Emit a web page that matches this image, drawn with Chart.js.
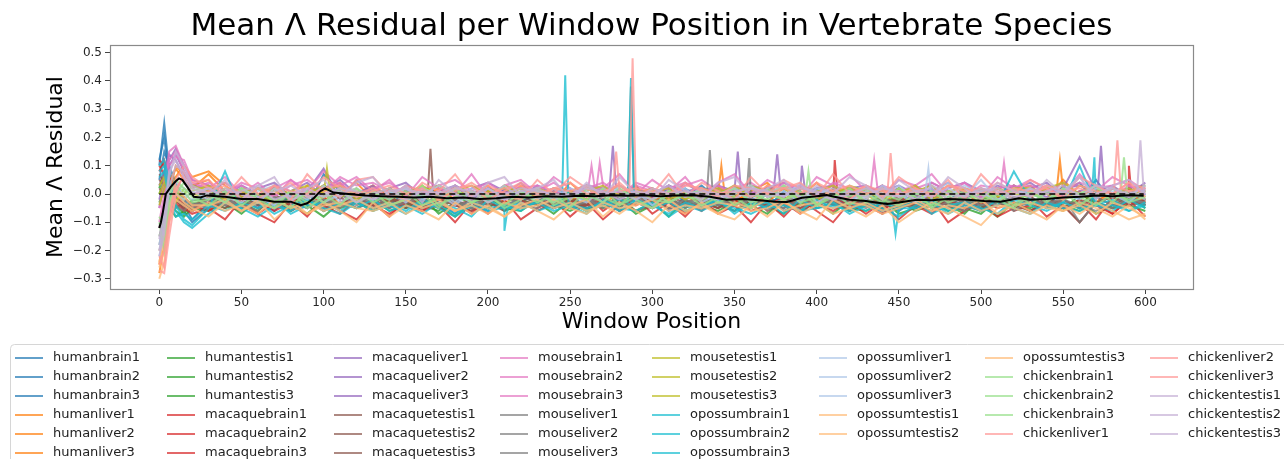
<!DOCTYPE html>
<html>
<head>
<meta charset="utf-8">
<script src="https://cdn.jsdelivr.net/npm/chart.js@4.4.1/dist/chart.umd.min.js"></script>
<style>
  html, body { margin: 0; padding: 0; background: #fff; }
  canvas { display: block; }
</style>
</head>
<body>
<canvas id="residualChart" width="1284" height="459"></canvas>
<script>
// sampled window positions (x) shared by every sample
const windowPos = [0,3,6,10,15,20,30,40,50,60,70,80,90,100,110,120,130,140,150,160,170,180,190,200,210,220,230,240,250,260,270,280,290,300,310,320,330,340,350,360,370,380,390,400,410,420,430,440,450,460,470,480,490,500,510,520,530,540,550,560,570,580,590,600];

// mean over all samples (black line)
const meanPos = [0,1,2,4,7,10,12,14,17,21,25,29,35,40,50,60,70,80,86,90,94,98,101,106,115,125,135,145,155,165,175,185,195,205,215,225,235,245,255,265,275,285,295,305,315,325,335,345,355,365,375,382,391,400,406,413,420,430,436,443,450,461,470,480,492,502,512,523,530,540,550,560,571,580,590,599];
const meanResidual = [-0.12,-0.1,-0.07,0.0,0.025,0.045,0.055,0.05,0.025,-0.01,-0.012,-0.005,-0.008,-0.01,-0.018,-0.018,-0.027,-0.027,-0.04,-0.033,-0.015,0.01,0.02,0.005,0.0,-0.005,-0.008,-0.01,-0.012,-0.01,-0.015,-0.012,-0.018,-0.015,-0.01,-0.012,-0.008,-0.01,-0.006,-0.008,-0.004,-0.006,-0.004,-0.008,-0.005,-0.004,-0.01,-0.02,-0.018,-0.022,-0.027,-0.028,-0.013,-0.008,-0.004,-0.012,-0.02,-0.025,-0.03,-0.035,-0.03,-0.02,-0.022,-0.018,-0.02,-0.025,-0.027,-0.015,-0.02,-0.018,-0.012,-0.01,-0.005,-0.008,-0.004,-0.006];

// dashed reference line at zero
const baselineX = [0, 599];

const xTicks = [0,50,100,150,200,250,300,350,400,450,500,550,600];
const yTicks = [-0.3,-0.2,-0.1,0.0,0.1,0.2,0.3,0.4,0.5];

const seriesNames = [
  'humanbrain1','humanbrain2','humanbrain3','humanliver1','humanliver2','humanliver3',
  'humantestis1','humantestis2','humantestis3','macaquebrain1','macaquebrain2','macaquebrain3',
  'macaqueliver1','macaqueliver2','macaqueliver3','macaquetestis1','macaquetestis2','macaquetestis3',
  'mousebrain1','mousebrain2','mousebrain3','mouseliver1','mouseliver2','mouseliver3',
  'mousetestis1','mousetestis2','mousetestis3','opossumbrain1','opossumbrain2','opossumbrain3',
  'opossumliver1','opossumliver2','opossumliver3','opossumtestis1','opossumtestis2','opossumtestis3',
  'chickenbrain1','chickenbrain2','chickenbrain3','chickenliver1','chickenliver2','chickenliver3',
  'chickentestis1','chickentestis2','chickentestis3'
];

const humanbrain1 = [0.1,0.25,0.08,0.02,-0.04,-0.09, -0.03,0.01,-0.02,-0.05,0.02,-0.04,-0.01,0.03,0.0,-0.02, -0.04,0.01,-0.03,-0.06,0.0,-0.02,-0.05,0.02,-0.01,-0.03, 0.01,-0.04,-0.02,0.03,-0.01,-0.05,0.0,-0.02,0.02,-0.03, -0.05,0.01,-0.02,-0.04,0.0,-0.06,-0.03,0.02,-0.01,-0.04, -0.02,-0.07,-0.03,0.0,-0.05,-0.02,0.01,-0.04,-0.03,0.02, -0.01,-0.05,0.03,-0.02,0.05,-0.03,0.0,-0.04];
const humanbrain2 = [0.05,0.15,0.1,0.04,-0.02,-0.06, 0.02,-0.03,0.0,-0.04,0.03,-0.02,-0.05,0.07,0.01,-0.03, 0.0,-0.05,0.02,-0.02,-0.04,0.01,-0.03,-0.06,0.02,-0.01, -0.03,0.02,-0.01,-0.04,0.01,-0.02,0.03,-0.05,-0.01,0.02, -0.02,-0.04,0.02,-0.01,-0.05,0.01,-0.03,0.0,-0.04,-0.02, 0.01,-0.03,-0.06,-0.02,0.02,-0.04,-0.01,-0.05,0.0,-0.03, -0.04,0.01,-0.02,-0.05,0.02,-0.01,-0.03,0.0];
const humanbrain3 = [0.12,0.2,0.06,-0.01,-0.06,-0.1, -0.05,-0.02,0.02,-0.03,-0.06,0.0,-0.02,-0.04,0.03,-0.01, 0.02,-0.02,-0.05,0.01,-0.03,-0.07,-0.01,0.01,-0.04,-0.02, -0.01,-0.05,0.01,-0.03,0.02,-0.04,-0.02,0.01,-0.06,-0.01, 0.03,-0.02,-0.04,0.01,-0.03,-0.01,-0.06,-0.02,0.02,-0.03, -0.04,-0.01,0.02,-0.05,-0.03,0.01,-0.02,-0.06,-0.01,0.03, -0.02,-0.04,0.01,0.04,-0.03,-0.01,0.02,-0.02];
const humanliver1 = [-0.25,-0.1,0.04,0.09,0.05,0.02, 0.07,0.01,-0.03,0.02,-0.01,-0.04,0.03,-0.02,0.0,0.04, -0.02,0.02,-0.01,-0.04,0.03,0.0,-0.03,0.01,-0.02,0.03, 0.0,-0.03,0.04,-0.01,0.02,-0.04,0.01,-0.02,0.03,-0.01, -0.03,0.02,0.0,-0.04,0.03,-0.02,0.01,-0.03,0.02,0.0, -0.02,0.03,-0.05,0.01,-0.01,-0.04,0.02,0.0,-0.03,0.01, 0.03,-0.02,0.05,-0.01,0.02,-0.03,0.01,-0.02];
const humanliver2 = [-0.2,-0.15,0.0,0.1,0.07,0.03, 0.05,-0.02,0.01,-0.03,0.02,0.0,-0.04,0.01,0.04,-0.02, 0.01,-0.03,0.02,0.0,-0.02,0.03,-0.01,-0.04,0.01,0.02, -0.02,0.01,-0.03,0.02,0.0,-0.01,0.03,-0.03,0.01,-0.02, 0.02,-0.01,-0.03,0.01,0.04,-0.02,0.0,-0.03,0.02,-0.01, 0.0,-0.04,0.02,-0.02,0.01,-0.03,-0.01,0.02,-0.02,0.03, -0.01,0.02,0.01,0.0,-0.03,0.02,-0.01,0.01];
const humanliver3 = [-0.28,-0.18,-0.04,0.06,0.1,0.06, 0.08,0.03,-0.01,0.02,-0.03,0.01,-0.02,0.03,-0.04,0.0, 0.03,-0.01,0.01,-0.03,0.02,-0.02,0.0,0.03,-0.03,-0.01, 0.02,-0.02,0.0,0.03,-0.04,0.01,-0.01,0.02,-0.03,0.01, -0.01,0.03,-0.02,0.0,-0.03,0.02,-0.01,0.04,-0.02,0.01, 0.02,-0.01,-0.03,0.03,-0.02,0.0,0.01,-0.04,0.02,-0.02, 0.0,0.03,-0.02,0.01,-0.04,0.02,0.0,-0.03];
const humantestis1 = [0.0,0.05,-0.03,-0.06,-0.08,-0.05, -0.06,-0.03,-0.07,-0.02,-0.05,-0.01,-0.04,-0.08,-0.03,-0.05, -0.02,-0.06,-0.04,-0.01,-0.07,-0.03,-0.05,-0.02,-0.06,-0.04, -0.03,-0.07,-0.02,-0.05,-0.04,-0.01,-0.06,-0.03,-0.08,-0.02, -0.05,-0.03,-0.06,-0.02,-0.04,-0.07,-0.01,-0.05,-0.03,-0.06, -0.04,-0.02,-0.07,-0.05,-0.03,-0.06,-0.02,-0.04,-0.08,-0.03, -0.06,-0.03,-0.05,-0.02,-0.07,-0.04,-0.01,-0.05];
const humantestis2 = [0.02,0.08,0.0,-0.04,-0.07,-0.03, -0.04,-0.01,-0.05,0.0,-0.03,-0.06,-0.02,-0.04,0.01,-0.03, -0.05,-0.02,0.0,-0.04,-0.06,-0.01,-0.03,-0.05,0.0,-0.02, -0.04,0.01,-0.03,-0.06,-0.02,-0.05,0.0,-0.03,-0.01,-0.05, -0.02,-0.05,-0.01,-0.04,-0.07,-0.02,-0.04,0.0,-0.03,-0.05, -0.06,-0.03,-0.01,-0.05,-0.02,-0.04,-0.07,-0.01,-0.03,-0.05, -0.02,-0.04,-0.06,0.0,-0.03,-0.05,-0.02,-0.04];
const humantestis3 = [-0.03,0.02,-0.05,-0.08,-0.06,-0.02, -0.02,-0.05,-0.03,-0.06,-0.01,-0.04,-0.07,-0.02,-0.05,-0.03, -0.06,-0.03,-0.05,-0.02,-0.04,-0.08,-0.03,-0.01,-0.05,-0.06, -0.02,-0.04,-0.06,-0.03,-0.05,-0.02,-0.07,-0.04,-0.03,-0.06, -0.04,-0.06,-0.03,-0.05,-0.02,-0.04,-0.06,-0.03,-0.07,-0.02, -0.03,-0.05,-0.02,-0.06,-0.04,-0.03,-0.05,-0.07,-0.02,-0.04, -0.05,-0.02,-0.04,-0.06,-0.03,-0.05,-0.04,-0.06];
const macaquebrain1 = [0.12,0.1,0.04,-0.02,-0.05,-0.07, -0.05,-0.09,-0.02,-0.07,-0.1,-0.03,-0.08,-0.01,-0.06,-0.09, -0.03,-0.08,-0.02,-0.06,-0.04,-0.1,-0.03,-0.07,-0.02,-0.09, -0.05,-0.02,-0.08,-0.03,-0.09,-0.04,-0.01,-0.07,-0.03,-0.08, -0.02,-0.07,-0.04,-0.1,-0.03,-0.08,-0.02,-0.06,-0.1,-0.03, -0.07,-0.03,-0.09,-0.04,-0.02,-0.1,-0.06,-0.03,-0.08,-0.05, -0.02,-0.08,-0.04,-0.1,-0.03,-0.07,-0.02,-0.08];
const macaquebrain2 = [0.08,0.12,0.06,0.0,-0.04,-0.06, -0.03,0.0,-0.05,-0.02,-0.06,-0.03,0.01,-0.04,-0.07,-0.02, -0.05,-0.01,-0.04,-0.06,-0.02,-0.03,-0.07,-0.01,-0.04,-0.05, -0.02,-0.05,-0.03,0.0,-0.06,-0.02,-0.04,-0.01,-0.05,-0.03, -0.06,-0.01,-0.04,-0.02,-0.05,-0.03,-0.07,-0.02,-0.02,-0.04, -0.03,-0.06,-0.01,-0.04,-0.07,-0.02,-0.05,-0.03,-0.01,-0.06, -0.04,-0.02,-0.05,-0.03,-0.09,-0.01,-0.04,-0.02];
const macaquebrain3 = [0.1,0.07,0.02,-0.03,-0.06,-0.04, -0.06,-0.02,-0.04,-0.07,-0.03,-0.05,-0.02,-0.06,-0.03,-0.01, -0.04,-0.07,-0.03,-0.02,-0.05,-0.04,-0.06,-0.03,-0.05,-0.02, -0.06,-0.03,-0.05,-0.04,-0.02,-0.06,-0.03,-0.05,-0.02,-0.07, -0.03,-0.05,-0.02,-0.06,-0.04,-0.01,-0.05,-0.03,-0.06,-0.02, -0.04,-0.07,-0.03,-0.05,-0.02,-0.04,-0.06,-0.02,-0.05,-0.03, -0.06,-0.03,-0.05,-0.02,-0.04,-0.07,-0.03,-0.03];
const macaqueliver1 = [-0.05,0.04,0.1,0.14,0.08,0.03, 0.02,-0.01,0.03,0.0,-0.02,0.01,0.04,-0.01,0.02,0.0, 0.03,-0.02,0.01,0.02,-0.01,0.03,0.0,0.02,-0.02,0.01, 0.0,0.02,-0.01,0.03,0.01,-0.02,0.02,0.0,0.03,-0.01, 0.01,0.03,0.01,0.0,0.02,-0.01,0.03,0.01,-0.02,0.02, 0.03,0.0,0.02,-0.01,0.04,0.01,-0.02,0.02,0.0,0.03, 0.01,-0.01,0.02,0.03,0.01,0.02,0.0,0.04];
const macaqueliver2 = [-0.02,0.06,0.12,0.16,0.1,0.05, 0.03,0.0,-0.02,0.02,0.04,-0.01,0.01,0.09,-0.02,0.05, 0.0,0.02,0.04,-0.01,0.01,0.03,-0.02,0.02,0.0,0.04, -0.01,0.02,0.01,0.03,0.02,0.0,0.02,-0.01,0.03,0.01, 0.02,-0.01,0.03,0.0,0.02,0.04,0.01,0.01,-0.01,0.02, 0.0,0.03,-0.02,0.02,0.01,0.04,0.0,-0.01,0.03,0.01, 0.02,0.04,-0.01,0.01,0.03,0.0,0.02,0.03];
const macaqueliver3 = [0.03,0.08,0.14,0.12,0.06,0.0, 0.01,0.04,0.0,-0.02,0.03,0.01,-0.01,0.02,0.05,0.0, 0.02,-0.01,0.03,0.01,0.0,-0.02,0.02,0.04,0.01,-0.01, 0.03,0.0,0.02,-0.02,0.01,0.03,0.0,0.02,-0.01,0.04, 0.0,0.02,-0.01,0.03,0.01,0.02,0.0,0.02,0.03,-0.01, 0.02,0.01,0.03,0.0,-0.02,0.02,0.04,0.01,-0.01,0.02, 0.04,0.0,0.02,0.13,0.01,0.03,-0.01,0.02];
const macaquetestis1 = [0.05,0.03,-0.02,-0.05,-0.03,-0.06, -0.03,-0.05,-0.01,-0.04,-0.02,-0.06,-0.03,0.0,-0.04,-0.02, -0.05,-0.03,-0.01,-0.03,-0.04,-0.02,-0.05,-0.03,-0.06,-0.01, -0.03,-0.05,-0.02,-0.04,-0.01,-0.06,-0.03,-0.02,-0.05,-0.03, -0.01,-0.04,-0.06,-0.02,-0.03,-0.05,-0.01,-0.04,-0.02,-0.06, -0.03,-0.05,-0.02,-0.04,-0.06,-0.01,-0.03,-0.05,-0.02,-0.04, -0.06,-0.02,-0.04,-0.1,-0.03,-0.05,-0.02,-0.04];
const macaquetestis2 = [0.02,0.0,-0.04,-0.02,-0.05,-0.04, -0.02,-0.04,-0.06,-0.01,-0.03,-0.05,-0.02,-0.04,-0.01,-0.05, -0.03,-0.01,-0.05,-0.03,-0.02,-0.04,-0.06,-0.01,-0.03,-0.05, -0.02,-0.04,-0.01,-0.05,-0.03,-0.02,-0.06,-0.04,-0.01,-0.03, -0.05,-0.02,-0.04,-0.01,-0.06,-0.03,-0.02,-0.05,-0.03,-0.01, -0.04,-0.02,-0.05,-0.03,-0.01,-0.04,-0.06,-0.02,-0.03,-0.05, -0.01,-0.04,-0.02,-0.05,-0.03,-0.01,-0.04,-0.03];
const macaquetestis3 = [0.07,0.04,0.0,-0.03,-0.01,-0.04, -0.01,-0.03,-0.05,-0.02,0.0,-0.04,-0.02,-0.05,-0.03,-0.01, -0.04,-0.02,-0.03,-0.05,-0.01,-0.04,-0.02,-0.03,-0.05,-0.02, -0.04,-0.01,-0.03,-0.05,-0.02,-0.04,-0.01,-0.03,-0.02,-0.04, -0.03,-0.05,-0.01,-0.03,-0.04,-0.02,-0.05,-0.01,-0.04,-0.03, -0.02,-0.04,-0.01,-0.05,-0.03,-0.02,-0.04,-0.06,-0.01,-0.03, -0.04,-0.02,-0.03,-0.05,-0.01,-0.04,-0.03,-0.02];
const mousebrain1 = [-0.1,0.0,0.15,0.17,0.1,0.04, 0.02,0.06,0.0,0.04,-0.01,0.05,0.01,0.08,0.03,0.06, 0.01,0.05,-0.01,0.06,0.02,0.0,0.07,-0.01,0.03,0.05, 0.0,0.06,0.02,-0.01,0.03,0.07,0.0,0.05,0.01,0.06, -0.01,0.04,0.07,0.0,0.05,0.02,-0.01,0.06,0.03,0.07, 0.01,-0.01,0.05,0.03,0.07,0.0,0.04,-0.01,0.06,0.02, 0.05,0.02,0.0,0.07,0.01,0.06,0.03,0.0];
const mousebrain2 = [-0.05,0.05,0.12,0.15,0.08,0.02, 0.04,0.01,0.03,-0.01,0.02,0.05,0.0,0.02,0.04,-0.01, 0.02,0.04,0.0,0.02,0.03,-0.01,0.01,0.04,0.0,0.02, 0.03,0.01,-0.01,0.02,0.04,0.0,0.03,0.01,0.02,0.04, 0.01,0.03,0.0,0.02,-0.01,0.04,0.02,0.0,0.03,0.01, 0.02,0.02,0.01,0.03,0.0,0.02,0.04,-0.01,0.02,0.03, 0.0,0.03,0.01,0.04,0.02,-0.01,0.03,0.02];
const mousebrain3 = [-0.12,-0.03,0.1,0.13,0.12,0.05, 0.03,0.0,0.04,0.02,-0.01,0.03,0.05,0.01,0.06,0.03, 0.04,0.01,0.02,0.0,0.03,0.05,0.01,-0.01,0.03,0.02, 0.01,0.04,0.0,0.03,0.02,-0.01,0.04,0.02,0.0,0.03, 0.05,0.01,0.02,0.04,0.0,0.02,0.03,-0.01,0.04,0.02, 0.0,0.03,0.01,0.02,0.04,0.01,-0.01,0.03,0.02,0.02, 0.03,0.01,0.04,0.0,0.02,0.03,0.05,0.01];
const mouseliver1 = [-0.15,-0.08,-0.02,-0.04,-0.06,-0.03, -0.05,-0.02,-0.04,-0.06,-0.01,-0.03,-0.05,-0.02,-0.04,-0.03, -0.01,-0.04,-0.02,-0.05,-0.03,-0.06,-0.02,-0.04,-0.01,-0.03, -0.05,-0.02,-0.04,-0.03,-0.01,-0.05,-0.03,-0.03,-0.05,-0.02, -0.04,-0.01,-0.03,-0.05,-0.02,-0.04,-0.06,-0.01,-0.03,-0.05, -0.02,-0.04,-0.03,-0.05,-0.01,-0.03,-0.06,-0.02,-0.04,-0.01, -0.03,-0.05,-0.02,-0.04,-0.06,-0.03,-0.01,-0.04];
const mouseliver2 = [-0.12,-0.05,0.0,-0.02,-0.04,-0.05, -0.02,-0.04,-0.01,-0.05,-0.03,0.0,-0.04,-0.02,-0.05,-0.01, -0.03,-0.05,-0.02,-0.04,0.0,-0.03,-0.05,-0.01,-0.04,-0.02, 0.0,-0.03,-0.05,-0.02,-0.04,-0.01,-0.03,-0.05,-0.02,-0.04, -0.01,-0.02,-0.04,-0.02,-0.05,-0.03,0.0,-0.04,-0.02,-0.05, -0.03,-0.01,-0.04,-0.02,-0.05,-0.03,-0.01,-0.04,-0.02,-0.06, -0.02,-0.04,-0.01,-0.1,-0.03,-0.05,-0.02,-0.03];
const mouseliver3 = [-0.18,-0.1,-0.03,0.0,-0.02,-0.04, -0.03,-0.01,-0.05,-0.02,-0.04,-0.06,-0.02,-0.03,0.0,-0.04, -0.02,-0.05,-0.03,-0.01,-0.04,-0.02,-0.05,-0.03,-0.01,-0.04, -0.03,-0.01,-0.04,-0.02,-0.05,-0.03,-0.01,-0.04,-0.02,-0.05, -0.02,-0.04,-0.01,-0.03,-0.03,-0.05,-0.02,-0.04,-0.01,-0.03, -0.05,-0.02,-0.04,-0.01,-0.03,-0.05,-0.02,-0.04,-0.03,-0.01, -0.04,-0.02,-0.05,-0.03,-0.01,-0.04,-0.02,-0.03];
const mousetestis1 = [0.0,0.04,0.02,-0.02,0.0,0.03, 0.01,-0.02,0.02,0.0,-0.03,0.01,0.03,-0.01,0.0,0.02, -0.02,0.01,0.0,0.03,-0.01,0.02,-0.03,0.01,0.02,-0.01, 0.02,0.0,-0.02,0.01,0.03,-0.01,0.0,0.02,-0.02,0.01, 0.0,0.02,-0.01,0.03,0.01,-0.02,0.02,0.0,-0.01,0.03, 0.01,-0.02,0.02,0.0,-0.01,0.03,0.01,-0.02,0.02,0.0, -0.01,0.02,0.04,0.0,0.02,-0.01,0.01,0.03];
const mousetestis2 = [-0.04,0.02,0.05,0.01,-0.02,0.01, 0.03,0.0,-0.01,0.02,0.01,-0.02,0.0,0.03,-0.01,0.01, 0.0,0.02,-0.02,0.01,0.03,0.0,0.01,-0.02,0.03,0.0, -0.01,0.02,0.01,-0.02,0.0,0.03,-0.01,0.01,0.02,-0.02, 0.02,0.0,0.03,-0.01,0.01,0.02,-0.02,0.01,0.03,0.0, -0.01,0.01,0.0,0.03,-0.02,0.01,0.02,0.0,-0.01,0.02, 0.02,0.0,-0.02,0.03,0.01,0.0,0.02,-0.01];
const mousetestis3 = [0.03,0.06,0.0,-0.03,0.02,0.0, -0.01,0.02,0.01,-0.03,0.02,0.0,-0.01,0.01,0.03,-0.02, 0.01,-0.01,0.02,0.0,-0.02,0.01,0.03,0.0,-0.01,0.02, 0.0,-0.02,0.01,0.03,-0.01,0.0,0.02,-0.02,0.01,0.0, -0.02,0.01,0.0,0.02,-0.01,0.03,0.0,-0.02,0.01,0.02, 0.0,0.02,-0.01,0.01,0.03,-0.02,0.0,0.01,-0.01,0.02, 0.01,-0.02,0.02,0.0,-0.01,0.02,0.0,0.01];
const opossumbrain1 = [0.1,0.12,0.05,-0.04,-0.09,-0.11, -0.05,0.08,-0.06,-0.03,-0.07,-0.04,-0.02,-0.06,-0.03,-0.05, -0.02,-0.06,-0.04,-0.07,-0.03,-0.05,-0.08,-0.02,-0.05,-0.03, -0.06,-0.04,-0.04,-0.05,-0.03,-0.06,-0.02,-0.04,-0.07,-0.03, -0.05,-0.02,-0.06,-0.04,-0.03,-0.07,-0.02,-0.05,-0.04,-0.06, -0.03,-0.05,-0.08,-0.04,-0.02,-0.06,-0.03,-0.05,-0.07,-0.02, -0.04,-0.06,-0.03,-0.05,-0.04,-0.04,-0.06,-0.03];
const opossumbrain2 = [0.08,0.1,0.02,-0.06,-0.1,-0.12, -0.07,-0.03,-0.05,-0.08,-0.04,-0.06,-0.02,-0.05,-0.07,-0.03, -0.06,-0.04,-0.07,-0.03,-0.05,-0.08,-0.04,-0.06,-0.05,-0.05, -0.03,-0.06,-0.04,-0.07,-0.02,-0.05,-0.06,-0.03,-0.08,-0.04, -0.06,-0.03,-0.05,-0.07,-0.04,-0.02,-0.06,-0.05,-0.03,-0.07, -0.04,-0.06,-0.05,-0.05,-0.03,-0.07,-0.04,-0.06,-0.02,-0.05, -0.07,-0.03,-0.05,-0.06,-0.04,-0.02,-0.06,-0.04];
const opossumbrain3 = [0.06,0.08,-0.02,-0.08,-0.07,-0.09, -0.04,-0.06,-0.03,-0.05,-0.02,-0.07,-0.04,-0.03,-0.06,-0.02, -0.05,-0.03,-0.06,-0.02,-0.04,-0.07,-0.03,-0.05,-0.04,-0.06, -0.02,-0.05,-0.03,-0.06,-0.04,-0.02,-0.03,-0.05,-0.03,-0.06, -0.04,-0.02,-0.07,-0.03,-0.05,-0.04,-0.06,-0.02,-0.05,-0.03, -0.06,-0.03,-0.05,-0.02,-0.07,-0.04,-0.03,-0.06,-0.04,0.08, -0.02,-0.05,-0.03,0.1,-0.04,-0.06,-0.02,-0.05];
const opossumliver1 = [-0.2,-0.12,-0.03,0.02,0.0,-0.02, 0.0,-0.03,0.02,-0.01,-0.04,0.01,-0.02,0.03,-0.03,0.0, -0.02,0.01,-0.03,0.02,0.0,-0.04,0.01,-0.01,0.03,-0.02, 0.01,-0.02,0.0,-0.03,0.02,-0.01,0.01,-0.04,0.0,0.02, -0.03,0.0,0.02,-0.02,0.01,-0.01,0.04,-0.03,0.0,0.01, -0.02,0.03,-0.01,0.0,-0.03,0.02,-0.01,0.05,-0.02,0.0, 0.02,-0.02,0.01,0.06,-0.01,0.0,-0.03,0.02];
const opossumliver2 = [-0.18,-0.08,0.0,0.04,0.02,0.0, 0.02,-0.01,-0.03,0.01,0.03,-0.02,0.0,-0.01,0.02,-0.03, 0.01,-0.02,0.02,-0.01,0.03,0.0,-0.03,0.02,-0.01,0.01, -0.02,0.02,-0.01,0.01,-0.03,0.03,0.0,-0.02,0.01,-0.01, 0.02,-0.02,0.0,0.03,-0.01,0.01,-0.03,0.02,0.0,-0.02, 0.01,-0.01,0.03,-0.02,0.0,0.04,-0.01,0.01,-0.03,0.02, -0.01,0.03,0.0,-0.02,0.02,0.01,-0.01,0.03];
const opossumliver3 = [-0.22,-0.15,-0.05,0.0,-0.02,0.01, -0.02,0.01,0.0,-0.03,0.02,-0.01,0.01,-0.03,0.0,0.02, -0.01,0.0,0.02,-0.02,0.01,-0.03,0.02,0.0,-0.02,0.01, 0.0,-0.03,0.02,0.0,-0.01,0.02,-0.02,0.01,-0.03,0.0, 0.01,-0.01,0.02,-0.03,0.0,0.03,-0.01,0.0,0.02,-0.02, -0.01,0.02,0.0,-0.03,0.01,-0.01,0.03,0.0,-0.02,0.01, 0.0,-0.02,0.02,0.0,0.03,-0.01,0.01,-0.02];
const opossumtestis1 = [-0.3,-0.24,-0.1,-0.02,-0.04,-0.06, -0.03,-0.06,-0.04,-0.07,-0.02,-0.05,-0.03,-0.06,-0.04,-0.02, -0.05,-0.03,-0.07,-0.04,-0.02,-0.06,-0.03,-0.05,-0.08,-0.04, -0.02,-0.05,-0.03,-0.06,-0.04,-0.07,-0.03,-0.05,-0.02,-0.06, -0.04,-0.07,-0.03,-0.05,-0.02,-0.06,-0.04,-0.03,-0.07,-0.05, -0.03,-0.06,-0.04,-0.02,-0.05,-0.07,-0.03,-0.06,-0.04,-0.05, -0.07,-0.04,-0.06,-0.03,-0.05,-0.08,-0.04,-0.09];
const opossumtestis2 = [-0.26,-0.2,-0.06,0.0,-0.03,-0.05, -0.08,-0.03,-0.06,-0.02,-0.09,-0.04,-0.07,-0.03,-0.06,-0.1, -0.03,-0.08,-0.04,-0.06,-0.09,-0.03,-0.07,-0.04,-0.08,-0.03, -0.06,-0.09,-0.04,-0.02,-0.08,-0.03,-0.06,-0.1,-0.04,-0.07, -0.03,-0.07,-0.09,-0.04,-0.08,-0.03,-0.06,-0.09,-0.02,-0.05, -0.08,-0.04,-0.1,-0.06,-0.03,-0.05,-0.08,-0.11,-0.05,-0.03, -0.06,-0.09,-0.04,-0.07,-0.03,-0.06,-0.09,-0.07];
const opossumtestis3 = [-0.24,-0.16,-0.04,0.02,-0.01,-0.04, -0.04,-0.02,-0.06,-0.03,-0.05,-0.02,-0.07,-0.04,-0.03,-0.05, -0.06,-0.04,-0.02,-0.05,-0.03,-0.06,-0.04,-0.07,-0.03,-0.05, -0.04,-0.02,-0.05,-0.07,-0.03,-0.05,-0.04,-0.02,-0.06,-0.04, -0.05,-0.03,-0.04,-0.06,-0.05,-0.02,-0.07,-0.04,-0.05,-0.03, -0.04,-0.07,-0.05,-0.03,-0.06,-0.04,-0.05,-0.02,-0.07,-0.04, -0.03,-0.05,-0.06,-0.04,-0.07,-0.03,-0.05,-0.08];
const chickenbrain1 = [-0.1,-0.2,-0.06,0.0,0.04,0.02, 0.0,-0.03,0.02,-0.02,-0.05,0.01,-0.03,0.0,-0.04,0.02, -0.03,0.0,-0.02,0.03,-0.04,-0.01,0.01,-0.03,0.0,-0.02, 0.02,-0.04,-0.01,0.0,-0.03,0.02,-0.02,-0.05,0.01,-0.01, -0.02,0.01,-0.04,0.0,-0.02,0.03,-0.03,-0.01,0.01,-0.04, 0.0,-0.03,0.02,-0.01,-0.04,0.01,-0.02,0.0,-0.03,0.02, -0.04,0.01,-0.02,0.0,0.03,-0.03,0.0,-0.01];
const chickenbrain2 = [-0.14,-0.16,-0.03,0.03,0.01,-0.03, -0.02,0.01,-0.04,0.0,-0.02,-0.05,0.01,-0.03,0.02,-0.01, 0.01,-0.04,-0.02,0.0,-0.05,0.02,-0.03,-0.01,-0.04,0.01, -0.03,0.0,-0.05,0.02,-0.01,-0.04,0.01,-0.02,-0.03,0.0, 0.01,-0.03,-0.01,-0.05,0.02,-0.02,0.0,-0.04,-0.01,0.02, -0.03,0.0,-0.02,0.02,-0.05,-0.01,0.01,-0.03,0.0,-0.04, 0.01,-0.03,0.02,-0.01,-0.04,0.0,-0.02,0.01];
const chickenbrain3 = [-0.08,-0.12,0.0,0.05,0.02,-0.01, -0.04,0.0,-0.02,0.02,-0.03,0.01,-0.05,-0.01,0.01,-0.03, 0.0,-0.02,0.01,-0.04,-0.01,0.02,-0.03,0.0,-0.05,-0.02, 0.01,-0.03,0.0,-0.02,0.02,-0.04,-0.01,0.01,-0.03,0.0, -0.04,-0.01,0.02,-0.03,0.0,-0.02,0.01,-0.04,0.0,-0.01, 0.02,-0.02,-0.04,0.0,0.01,-0.03,-0.01,0.02,-0.02,-0.05, 0.0,-0.02,0.01,-0.04,0.0,0.02,-0.03,-0.01];
const chickenliver1 = [-0.27,-0.28,-0.15,0.0,0.08,0.04, 0.05,-0.01,0.06,0.0,0.03,-0.02,0.07,0.01,-0.01,0.05, 0.06,0.0,-0.02,0.04,0.01,0.07,-0.01,0.03,0.0,-0.02, 0.05,0.0,0.06,0.02,-0.01,0.04,0.01,0.0,0.07,-0.01, 0.04,0.01,-0.02,0.06,0.0,0.05,0.02,-0.01,0.07,0.0, 0.03,-0.01,0.06,0.02,0.0,0.05,-0.02,0.07,0.01,0.0, 0.05,0.02,-0.01,0.06,0.03,0.0,0.04,-0.01];
const chickenliver2 = [-0.22,-0.26,-0.1,0.05,0.1,0.06, 0.02,0.04,0.0,-0.02,0.03,0.01,0.0,0.06,0.02,-0.01, 0.01,0.03,0.0,0.02,-0.02,0.01,0.04,0.0,0.02,0.03, -0.01,0.02,0.04,0.0,0.01,0.03,-0.01,0.02,0.0,0.04, 0.01,-0.01,0.03,0.02,0.0,0.02,0.04,-0.01,0.01,0.03, 0.0,0.02,0.0,0.01,-0.01,0.03,0.02,0.0,0.04,0.01, -0.01,0.03,0.01,0.02,0.0,0.02,0.01,0.02];
const chickenliver3 = [-0.25,-0.2,-0.08,0.02,0.06,0.0, 0.01,0.03,-0.02,0.02,0.0,0.04,-0.01,0.02,0.03,0.0, 0.02,-0.01,0.03,0.01,0.0,0.02,0.03,-0.02,0.01,0.04, 0.0,0.02,0.01,0.03,0.0,0.01,0.02,0.01,-0.01,0.03, 0.02,0.0,0.01,-0.01,0.03,0.02,0.0,0.04,0.01,-0.02, 0.03,0.01,0.0,0.02,-0.01,0.03,0.01,0.02,0.0,0.02, 0.01,0.02,-0.02,0.03,0.01,0.0,0.04,0.02];
const chickentestis1 = [-0.2,-0.1,0.06,0.15,0.1,0.03, 0.0,0.05,-0.02,0.03,0.06,-0.03,0.02,0.05,-0.01,0.04, 0.06,-0.01,0.03,-0.03,0.05,0.0,-0.02,0.04,0.06,-0.01, 0.02,0.05,-0.02,0.04,-0.01,0.06,0.0,-0.02,0.05,0.01, -0.02,0.04,0.06,-0.01,0.02,0.05,-0.02,0.03,0.0,0.06, 0.03,-0.02,0.05,0.01,-0.01,0.06,0.02,-0.02,0.04,0.01, -0.01,0.05,0.0,0.06,-0.02,0.03,0.05,0.0];
const chickentestis2 = [-0.16,-0.06,0.08,0.12,0.06,0.0, 0.02,-0.01,0.01,0.03,-0.02,0.0,0.02,-0.01,0.01,-0.03, 0.0,0.02,-0.02,0.01,0.0,0.03,-0.01,0.02,-0.02,0.01, 0.02,-0.01,0.0,0.02,0.01,-0.02,0.01,0.0,0.03,-0.01, 0.01,0.0,-0.02,0.02,0.01,-0.01,0.03,0.0,-0.02,0.01, -0.01,0.02,0.01,-0.02,0.03,0.0,-0.01,0.02,0.01,-0.02, 0.02,0.0,0.01,-0.01,0.03,0.02,0.0,0.01];
const chickentestis3 = [-0.22,-0.14,0.02,0.1,0.08,0.02, -0.01,0.02,0.0,-0.02,0.01,0.03,-0.01,0.0,0.02,0.01, -0.02,0.01,0.02,0.0,-0.01,0.02,0.01,-0.03,0.0,0.02, 0.01,0.0,-0.01,0.03,0.0,0.01,-0.02,0.02,0.0,0.01, 0.0,-0.02,0.01,0.02,-0.01,0.0,0.02,0.01,-0.02,0.0, 0.02,0.0,-0.01,0.01,0.02,-0.02,0.0,0.01,0.02,-0.01, 0.0,0.01,0.03,-0.01,0.0,0.02,-0.01,0.01];

const seriesValues = [
  humanbrain1, humanbrain2, humanbrain3, humanliver1, humanliver2, humanliver3,
  humantestis1, humantestis2, humantestis3, macaquebrain1, macaquebrain2, macaquebrain3,
  macaqueliver1, macaqueliver2, macaqueliver3, macaquetestis1, macaquetestis2, macaquetestis3,
  mousebrain1, mousebrain2, mousebrain3, mouseliver1, mouseliver2, mouseliver3,
  mousetestis1, mousetestis2, mousetestis3, opossumbrain1, opossumbrain2, opossumbrain3,
  opossumliver1, opossumliver2, opossumliver3, opossumtestis1, opossumtestis2, opossumtestis3,
  chickenbrain1, chickenbrain2, chickenbrain3, chickenliver1, chickenliver2, chickenliver3,
  chickentestis1, chickentestis2, chickentestis3
];

// single-window spikes: sample, window, peak value, level either side
const spikeSample = ['macaquetestis1','opossumbrain2','opossumbrain1','mousebrain1','macaqueliver2','chickenliver3','mouseliver1','opossumbrain3','chickenliver1','mouseliver2','macaqueliver1','mouseliver3','macaqueliver3','macaqueliver2','macaquebrain2','mousebrain2','chickenliver2','opossumbrain2','mousebrain3','humanliver2','opossumbrain1','macaqueliver1','chickenliver2','chickenbrain1','macaquebrain3','chickentestis2','mousetestis1','humanliver1','chickenbrain2','opossumliver1','mousebrain3'];
const spikeX = [165,210,247,268,276,278,287,287,288,335,352,359,376,391,411,435,445,448,514,548,569,573,583,587,590,597,102,342,395,468,263];
const spikePeak = [0.16,-0.13,0.42,0.11,0.17,0.15,0.38,0.41,0.48,0.155,0.15,0.127,0.14,0.1,0.12,0.12,0.145,-0.14,0.11,0.12,0.13,0.17,0.19,0.13,0.1,0.19,0.09,0.1,0.08,0.09,0.1];
const spikeBase = [-0.03,-0.05,-0.04,0.02,0.02,0.01,-0.03,-0.03,0.01,-0.02,0.01,-0.03,0.02,0.01,-0.02,0.02,0.0,-0.05,0.02,0.01,-0.04,0.01,0.02,0.0,-0.03,0.01,0.0,0.0,-0.01,0.0,0.02];

// one colour per species/tissue group (3 replicates each), matplotlib tab10 then tab20 light tones
const groupColors = [
  '#1f77b4', '#ff7f0e', '#2ca02c', '#d62728', '#9467bd',
  '#8c564b', '#e377c2', '#7f7f7f', '#bcbd22', '#17becf',
  '#aec7e8', '#ffbb78', '#98df8a', '#ff9896', '#c5b0d5'
];

function withAlpha(hex, a) {
  const n = parseInt(hex.slice(1), 16);
  return 'rgba(' + ((n >> 16) & 255) + ',' + ((n >> 8) & 255) + ',' + (n & 255) + ',' + a + ')';
}

const FONT = "'DejaVu Sans', 'Liberation Sans', sans-serif";
const LINE_ALPHA = 0.78;

function samplePoints(i) {
  const pts = windowPos.map(function(x, j) { return { x: x, y: seriesValues[i][j] }; });
  spikeSample.forEach(function(name, k) {
    if (name !== seriesNames[i]) return;
    pts.push({ x: spikeX[k] - 2, y: spikeBase[k] });
    pts.push({ x: spikeX[k], y: spikePeak[k] });
    pts.push({ x: spikeX[k] + 2, y: spikeBase[k] });
  });
  pts.sort(function(a, b) { return a.x - b.x; });
  return pts;
}

const datasets = seriesNames.map(function(name, i) {
  return {
    label: name,
    data: samplePoints(i),
    borderColor: withAlpha(groupColors[Math.floor(i / 3)], LINE_ALPHA),
    borderWidth: 2,
    pointRadius: 0,
    fill: false,
    // later samples are drawn over earlier ones, like matplotlib
    order: seriesNames.length - i + 2
  };
});

datasets.push({
  label: 'mean',
  data: meanPos.map(function(x, j) { return { x: x, y: meanResidual[j] }; }),
  borderColor: '#000',
  borderWidth: 2,
  pointRadius: 0,
  order: 1
});
datasets.push({
  label: 'zero',
  data: baselineX.map(function(x) { return { x: x, y: 0 }; }),
  borderColor: '#000',
  borderWidth: 1.5,
  borderDash: [6, 4],
  pointRadius: 0,
  order: 0
});

// title, frame and the 8-column legend (column-major like matplotlib)
const decorations = {
  id: 'decorations',
  afterDraw: function(chart) {
    const ctx = chart.ctx;
    const area = chart.chartArea;
    ctx.save();

    ctx.strokeStyle = '#8a8a8a';
    ctx.lineWidth = 1.2;
    ctx.strokeRect(area.left + 0.5, area.top + 0.5, area.right - area.left, area.bottom - area.top);

    ctx.fillStyle = '#000';
    ctx.font = '31px ' + FONT;
    ctx.textAlign = 'center';
    ctx.textBaseline = 'alphabetic';
    ctx.fillText('Mean \u039b Residual per Window Position in Vertebrate Species', (area.left + area.right) / 2, 35);

    // legend frame (runs off the bottom edge)
    ctx.fillStyle = 'rgba(255,255,255,0.8)';
    ctx.strokeStyle = '#d6d6d6';
    ctx.lineWidth = 1;
    ctx.beginPath();
    ctx.roundRect(10.5, 344.5, 1300, 150, 4);
    ctx.fill();
    ctx.stroke();

    const colX = [15, 167, 334, 500, 652, 819, 985, 1150];
    const perCol = [6, 6, 6, 6, 6, 5, 5, 5];
    const rowY0 = 358, rowH = 19;
    ctx.font = '13px ' + FONT;
    ctx.textAlign = 'left';
    ctx.textBaseline = 'middle';
    let idx = 0;
    for (let c = 0; c < colX.length; c++) {
      for (let r = 0; r < perCol[c]; r++) {
        if (idx >= seriesNames.length) break;
        const y = rowY0 + r * rowH;
        ctx.strokeStyle = withAlpha(groupColors[Math.floor(idx / 3)], LINE_ALPHA);
        ctx.lineWidth = 1.8;
        ctx.beginPath();
        ctx.moveTo(colX[c], y);
        ctx.lineTo(colX[c] + 28, y);
        ctx.stroke();
        ctx.fillStyle = '#222';
        ctx.fillText(seriesNames[idx], colX[c] + 38, y);
        idx++;
      }
    }
    ctx.restore();
  }
};

new Chart(document.getElementById('residualChart').getContext('2d'), {
  type: 'line',
  data: { datasets: datasets },
  options: {
    responsive: false,
    animation: false,
    devicePixelRatio: 1,
    layout: { padding: { left: 43, right: 91, top: 45, bottom: 124 } },
    plugins: {
      legend: { display: false },
      title: { display: false },
      tooltip: { enabled: false }
    },
    scales: {
      x: {
        type: 'linear',
        min: -30,
        max: 629,
        afterBuildTicks: function(scale) { scale.ticks = xTicks.map(function(v) { return { value: v }; }); },
        afterFit: function(scale) { scale.height = 46; },
        grid: { drawOnChartArea: false, drawTicks: true, tickLength: 5, color: '#444' },
        border: { display: false },
        ticks: {
          padding: 2,
          color: '#262626',
          font: { family: FONT, size: 12 },
          maxRotation: 0,
          callback: function(v) { return String(v); }
        },
        title: {
          display: true,
          text: 'Window Position',
          color: '#000',
          font: { family: FONT, size: 22 },
          padding: 0
        }
      },
      y: {
        type: 'linear',
        min: -0.336,
        max: 0.527,
        afterBuildTicks: function(scale) { scale.ticks = yTicks.map(function(v) { return { value: v }; }); },
        afterFit: function(scale) { scale.width = 67; },
        grid: { drawOnChartArea: false, drawTicks: true, tickLength: 5, color: '#444' },
        border: { display: false },
        ticks: {
          padding: 3,
          color: '#262626',
          font: { family: FONT, size: 12 },
          callback: function(v) { return v.toFixed(1).replace('-', '\u2212'); }
        },
        title: {
          display: true,
          text: 'Mean \u039b Residual',
          color: '#000',
          font: { family: FONT, size: 22 },
          padding: 0
        }
      }
    }
  },
  plugins: [decorations]
});
</script>
</body>
</html>
